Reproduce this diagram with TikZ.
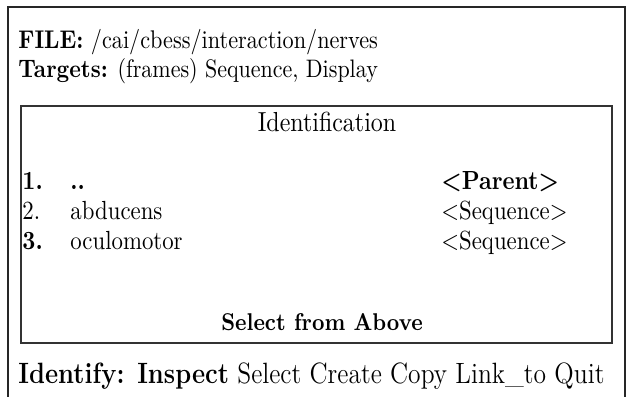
\documentclass[tikz,border=0pt]{standalone}
\usepackage{fontspec}
\newcommand{\parenttag}{\mbox{\boldmath$<$\textbf{Parent}$>$}}
\newcommand{\seqtag}{\mbox{$<$Sequence$>$}}
\newcommand{\fs}[1]{\fontsize{#1}{1.2em}\selectfont}
\newcommand{\tall}[1]{\scalebox{1}[1.15]{#1}}
\begin{document}
\begin{tikzpicture}[x=0.4386pt,y=-0.4386pt,
  txt/.style={anchor=base west,inner sep=0pt,font=\fs{10}},
  ctr/.style={anchor=base,inner sep=0pt,font=\fs{10}},
  outerline/.style={line width=0.9pt,black!85},
  innerbox/.style={line width=0.65pt,black!80}]
\useasboundingbox (0,0) rectangle (628,397);
\fill[white] (0,0) rectangle (628,397);
\draw[outerline] (8,400) -- (8,7) -- (625,7) -- (625,400);
\node[txt,font=\fs{9.75}] (file) at (18,49) {\tall{\textbf{FILE:} /cai/cbess/interaction/nerves}};
\node[txt,font=\fs{9.65}] (targets) at (18,78) {\tall{\textbf{Targets:} (frames) Sequence, Display}};
\draw[innerbox] (21,106) rectangle (612,343);
\node[ctr,font=\fs{10.5}] (ident) at (327,132) {\tall{Identification}};
\node[txt] (n1) at (22,190) {\tall{\textbf{1.}}};
\node[txt] (i1) at (70,190) {\tall{\textbf{..}}};
\node[txt] (t1) at (441,190) {\tall{\parenttag}};
\node[txt] (n2) at (22,220) {\tall{2.}};
\node[txt] (i2) at (70,220) {\tall{abducens}};
\node[txt] (t2) at (441,220) {\tall{\seqtag}};
\node[txt] (n3) at (22,250) {\tall{\textbf{3.}}};
\node[txt] (i3) at (70,250) {\tall{oculomotor}};
\node[txt] (t3) at (441,250) {\tall{\seqtag}};
\node[ctr,font=\fs{9.25}] (sel) at (322,331) {\tall{\textbf{Select from Above}}};
\node[txt,font=\fs{11.2}] (menu) at (18,384) {\tall{\textbf{Identify: Inspect} Select Create Copy Link\_to Quit}};
\end{tikzpicture}
\end{document}
